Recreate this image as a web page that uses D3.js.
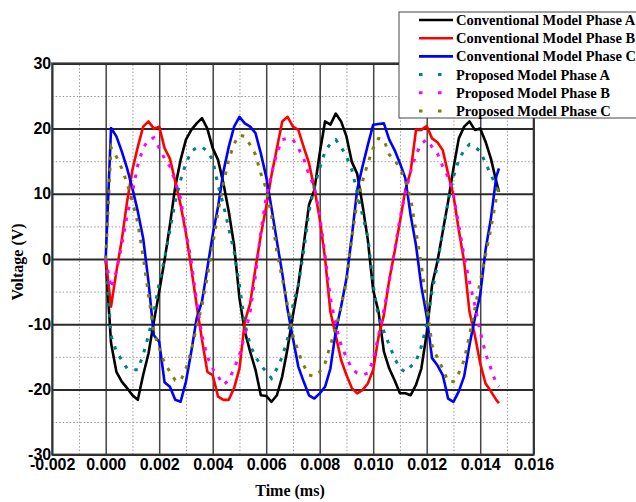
<!DOCTYPE html>
<html>
<head>
<meta charset="utf-8">
<title>Voltage vs Time</title>
<script src="https://cdn.jsdelivr.net/npm/d3@7/dist/d3.min.js"></script>
<style>
  body { margin: 0; background: #fff; }
  svg { display: block; font-family: "Liberation Serif", "Times New Roman", serif; font-weight: bold; }
  .grid-major-x line { stroke: #444; stroke-width: 1.5; }
  .grid-major-y line { stroke: #2a2a2a; stroke-width: 2; }
  .grid-minor line { stroke: #999; stroke-width: 1; stroke-dasharray: 1.5 2; }
  .grid path, .axis path { stroke-width: 0; }
  .axis text { font-size: 16px; fill: #000; }
</style>
</head>
<body>
<script>
// time in ms (axis units)
const times = [0, 0.0002, 0.0004, 0.0006, 0.0008, 0.0010, 0.0012, 0.0014, 0.0016, 0.0018,
  0.0020, 0.0022, 0.0024, 0.0026, 0.0028, 0.0030, 0.0032, 0.0034, 0.0036, 0.0038,
  0.0040, 0.0042, 0.0044, 0.0046, 0.0048, 0.0050, 0.0052, 0.0054, 0.0056, 0.0058,
  0.0060, 0.0062, 0.0064, 0.0066, 0.0068, 0.0070, 0.0072, 0.0074, 0.0076, 0.0078,
  0.0080, 0.0082, 0.0084, 0.0086, 0.0088, 0.0090, 0.0092, 0.0094, 0.0096, 0.0098,
  0.0100, 0.0102, 0.0104, 0.0106, 0.0108, 0.0110, 0.0112, 0.0114, 0.0116, 0.0118,
  0.0120, 0.0122, 0.0124, 0.0126, 0.0128, 0.0130, 0.0132, 0.0134, 0.0136, 0.0138,
  0.0140, 0.0142, 0.0144, 0.0146, 0.0147];

const convA = [0, -12.9, -17.3, -18.8, -19.8, -20.9, -21.6, -17.8, -14.5, -9.6,
  -5.0, -0.2, 5.2, 11.1, 15.2, 18.3, 19.8, 20.8, 21.6, 20.0,
  17.0, 15.2, 11.6, 7.3, 2.1, -6.0, -11.1, -14.2, -17.0, -20.9,
  -21.0, -21.9, -20.9, -18.0, -13.7, -8.6, -4.0, 2.1, 8.3, 10.6,
  16.2, 21.1, 20.6, 22.3, 21.1, 18.8, 14.9, 13.1, 8.3, 2.9,
  -4.8, -8.1, -14.2, -16.8, -18.6, -20.6, -20.6, -20.9, -19.3, -16.8,
  -11.4, -4.0, -0.4, 4.2, 8.8, 13.9, 18.5, 20.3, 21.1, 19.8,
  20.0, 18.0, 15.4, 11.9, 10.3];

const convB = [0, -7.3, -1.9, 2.9, 8.8, 13.7, 17.2, 20.3, 21.1, 20.0,
  20.3, 17.0, 15.4, 11.9, 8.3, 3.9, -1.4, -7.1, -12.4, -17.3,
  -17.8, -21.1, -21.6, -21.6, -19.8, -16.8, -9.6, -6.8, -1.4, 3.7,
  8.0, 12.9, 17.0, 21.1, 21.8, 20.3, 19.8, 17.2, 14.7, 10.8,
  6.2, 0.1, -8.1, -11.7, -15.5, -17.8, -19.8, -20.6, -20.1, -19.1,
  -17.0, -11.9, -8.6, -3.2, 1.1, 5.7, 10.6, 13.4, 19.8, 19.8,
  20.4, 18.5, 17.9, 16.7, 13.1, 9.8, 4.4, -0.4, -8.1, -11.7,
  -16.0, -19.1, -20.3, -21.6, -22.1];

const convC = [0, 20.1, 18.8, 16.5, 13.9, 10.8, 7.3, 3.2, -3.5, -11.7,
  -12.7, -18.9, -19.6, -21.6, -21.9, -18.8, -14.2, -9.1, -6.5, -1.4,
  3.7, 8.0, 13.4, 17.2, 20.3, 21.8, 20.8, 20.3, 19.3, 16.2,
  12.6, 7.8, 2.7, -2.2, -7.8, -12.2, -16.5, -18.8, -20.9, -21.4,
  -20.6, -19.6, -16.8, -11.1, -7.3, -3.0, 3.4, 10.6, 14.2, 17.5,
  20.6, 20.7, 20.8, 18.3, 16.7, 14.7, 12.4, 6.7, 2.1, -4.2,
  -8.8, -15.2, -16.3, -17.8, -21.4, -21.9, -20.3, -18.0, -13.2, -9.1,
  -5.5, 1.4, 6.2, 12.6, 13.9];

const propA = [0, -11.7, -14.2, -15.5, -16.8, -17.0, -17.0, -14.7, -11.7, -8.1,
  -3.7, 0.1, 4.4, 8.8, 12.1, 14.7, 16.5, 17.1, 17.2, 16.5,
  15.2, 11.3, 8.3, 4.7, 1.1, -4.0, -9.9, -13.2, -15.0, -16.3,
  -17.3, -18.3, -16.8, -15.0, -12.2, -7.1, -4.0, 1.1, 7.3, 11.1,
  13.9, 16.5, 17.7, 18.3, 17.2, 15.7, 13.7, 10.3, 6.7, 3.4,
  -4.0, -9.1, -11.1, -13.2, -15.2, -16.8, -17.3, -16.5, -15.7, -13.4,
  -10.1, -5.0, -0.9, 4.2, 8.8, 12.6, 15.2, 16.7, 17.6, 17.2,
  16.5, 14.7, 12.9, 11.1, 10.1];

const propB = [0, -4.5, -1.9, 2.1, 6.7, 10.3, 14.4, 17.0, 18.3, 18.6,
  17.0, 15.4, 14.2, 11.9, 9.3, 4.2, -0.4, -6.5, -11.7, -15.0,
  -16.8, -18.0, -19.3, -18.6, -16.8, -14.7, -11.7, -8.1, -2.5, 4.2,
  9.5, 13.1, 16.2, 18.3, 18.5, 18.3, 17.0, 15.4, 12.9, 11.1,
  6.7, 0.6, -6.0, -10.1, -13.2, -15.1, -16.8, -17.5, -17.8, -17.5,
  -15.5, -11.7, -7.8, -3.5, 1.4, 6.2, 10.1, 13.4, 16.0, 17.7,
  18.3, 17.2, 16.2, 14.2, 12.6, 9.8, 5.2, 0.4, -3.5, -7.1,
  -11.1, -14.5, -16.8, -19.1, -19.6];

const propC = [0, 17.1, 15.7, 13.9, 11.6, 8.8, 5.5, 0.4, -5.5, -11.1,
  -13.7, -16.0, -17.3, -18.6, -18.7, -16.8, -14.0, -10.4, -7.1, -2.7,
  2.1, 7.3, 11.6, 15.2, 17.7, 19.0, 18.8, 17.5, 16.0, 13.1,
  10.8, 6.7, 1.1, -3.0, -7.1, -11.7, -14.2, -16.3, -17.8, -18.0,
  -17.3, -16.0, -13.2, -10.6, -7.3, -3.5, 3.2, 8.8, 11.9, 14.7,
  17.0, 18.5, 18.3, 16.0, 15.2, 13.9, 12.1, 9.3, 4.2, -0.9,
  -7.1, -13.2, -15.2, -16.8, -18.8, -18.8, -17.5, -15.5, -11.7, -7.6,
  -3.5, 0.6, 4.7, 9.3, 11.3];

const xTicks = [-0.002, 0, 0.002, 0.004, 0.006, 0.008, 0.010, 0.012, 0.014, 0.016];
const xMinor = [-0.001, 0.001, 0.003, 0.005, 0.007, 0.009, 0.011, 0.013, 0.015];
const yTicks = [-30, -20, -10, 0, 10, 20, 30];
const yMinor = [-25, -15, -5, 5, 15, 25];

const seriesNames = ["Conventional Model Phase A", "Conventional Model Phase B", "Conventional Model Phase C",
  "Proposed Model Phase A", "Proposed Model Phase B", "Proposed Model Phase C"];

const series = [
  { name: seriesNames[0], values: convA, color: "#000000", dotted: false },
  { name: seriesNames[1], values: convB, color: "#ff0000", dotted: false },
  { name: seriesNames[2], values: convC, color: "#0000ff", dotted: false },
  { name: seriesNames[3], values: propA, color: "#008080", dotted: true },
  { name: seriesNames[4], values: propB, color: "#ff00ff", dotted: true },
  { name: seriesNames[5], values: propC, color: "#808000", dotted: true }
];

let margin = {top: 63.4, left: 52.2},
    width = 481.5,
    height = 391.2;

var svg = d3.select("body").append("svg")
  .attr("width", 636)
  .attr("height", 502);

var g = svg.append("g")
  .attr("transform", "translate(" + margin.left + "," + margin.top + ")");

var x = d3.scaleLinear().domain([-0.002, 0.016]).range([0, width]);
var y = d3.scaleLinear().domain([-30, 30]).range([height, 0]);

// minor dotted grid
g.append("g").attr("class", "grid grid-minor")
  .attr("transform", "translate(0," + height + ")")
  .call(d3.axisBottom(x).tickValues(xMinor).tickSize(-height).tickFormat(""));
g.append("g").attr("class", "grid grid-minor")
  .call(d3.axisLeft(y).tickValues(yMinor).tickSize(-width).tickFormat(""));

// major grid
g.append("g").attr("class", "grid grid-major-x")
  .attr("transform", "translate(0," + height + ")")
  .call(d3.axisBottom(x).tickValues(xTicks).tickSize(-height).tickFormat(""));
g.append("g").attr("class", "grid grid-major-y")
  .call(d3.axisLeft(y).tickValues(yTicks).tickSize(-width).tickFormat(""));

// frame
g.append("rect")
  .attr("width", width).attr("height", height)
  .attr("fill", "none").attr("stroke", "#333").attr("stroke-width", 2);

// axis labels
g.append("g").attr("class", "axis")
  .attr("transform", "translate(0," + height + ")")
  .call(d3.axisBottom(x).tickValues(xTicks).tickSize(0).tickPadding(4).tickFormat(d => d.toFixed(3)));
g.append("g").attr("class", "axis")
  .call(d3.axisLeft(y).tickValues(yTicks).tickSize(0).tickPadding(1).tickFormat(d => String(d)));

var line = d3.line()
  .x((d, i) => x(times[i]))
  .y(d => y(d));

// conventional first, proposed dotted on top
series.filter(s => !s.dotted).forEach(s => {
  g.append("path")
    .attr("d", line(s.values))
    .attr("fill", "none")
    .attr("stroke", s.color)
    .attr("stroke-width", 2.6)
    .attr("stroke-linejoin", "round");
});
series.filter(s => s.dotted).forEach(s => {
  g.append("path")
    .attr("d", line(s.values))
    .attr("fill", "none")
    .attr("stroke", s.color)
    .attr("stroke-width", 3)
    .attr("stroke-dasharray", "3.5 7.5");
});

// axis titles
svg.append("text")
  .attr("x", 290).attr("y", 496)
  .attr("text-anchor", "middle")
  .style("font-size", "16px")
  .text("Time (ms)");

svg.append("text")
  .attr("transform", "rotate(-90)")
  .attr("x", -262).attr("y", 23)
  .attr("text-anchor", "middle")
  .style("font-size", "16px")
  .text("Voltage (V)");

// legend
var legend = svg.append("g").attr("transform", "translate(399,12)");
legend.append("rect")
  .attr("x", 0).attr("y", 0)
  .attr("width", 260).attr("height", 106)
  .attr("fill", "#fff").attr("stroke", "#444").attr("stroke-width", 1);

series.forEach((s, i) => {
  let cy = 8 + i * 18.2;
  legend.append("line")
    .attr("x1", 20).attr("x2", 54)
    .attr("y1", cy).attr("y2", cy)
    .attr("stroke", s.color)
    .attr("stroke-width", s.dotted ? 3 : 2.6)
    .attr("stroke-dasharray", s.dotted ? "3.5 15.5" : null);
  legend.append("text")
    .attr("x", 57).attr("y", cy + 5)
    .style("font-size", "14.5px")
    .text(s.name);
});
</script>
</body>
</html>
